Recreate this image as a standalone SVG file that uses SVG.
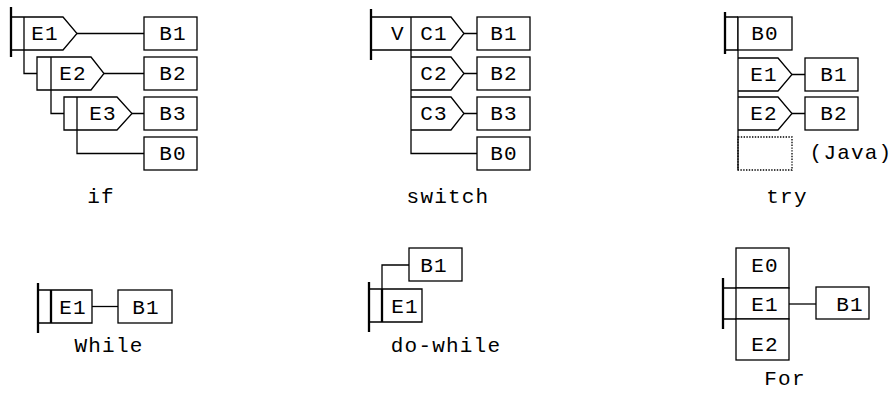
<svg xmlns="http://www.w3.org/2000/svg" width="893" height="398" viewBox="0 0 893 398">
  <style>
    .ln { fill: none; stroke: #000; stroke-width: 1.3; }
    .bx { fill: #fff; stroke: #000; stroke-width: 1.3; }
    .bar { fill: none; stroke: #000; stroke-width: 2.3; }
    .dot { fill: none; stroke: #000; stroke-width: 1.3; stroke-dasharray: 1.4 1.4; }
    text { font-family: "Liberation Mono", "Courier New", monospace; font-size: 21px; letter-spacing: 1.2px; fill: #000; text-anchor: middle; }
  </style>
  <rect width="893" height="398" fill="#fff"/>

  <!-- if / else-if chain -->
  <g id="if">
    <g id="if-connectors">
      <path class="ln" d="M24,17 V73.5 H37"/>
      <path class="ln" d="M51,57 V113.5 H64"/>
      <path class="ln" d="M77,97 V153.5 H144"/>
      <path class="ln" d="M77,33.5 H144 M104,73.5 H144 M132,113.5 H144"/>
    </g>
    <g id="if-e1"><path class="ln" d="M11,17 H63 L77,33.5 L63,50 H11"/><text x="45" y="40">E1</text></g>
    <g id="if-e2"><path class="ln" d="M37,57 H91 L104,73.5 L91,90 H37 Z"/><text x="73" y="80">E2</text></g>
    <g id="if-e3"><path class="ln" d="M64,97 H117 L132,113.5 L117,130 H64 Z"/><text x="103" y="120">E3</text></g>
    <g id="if-b1"><rect class="bx" x="144" y="17" width="53" height="33"/><text x="173" y="40">B1</text></g>
    <g id="if-b2"><rect class="bx" x="144" y="57" width="53" height="33"/><text x="173" y="80">B2</text></g>
    <g id="if-b3"><rect class="bx" x="144" y="97" width="53" height="33"/><text x="173" y="120">B3</text></g>
    <g id="if-b0"><rect class="bx" x="144" y="137" width="53" height="33"/><text x="173" y="160">B0</text></g>
    <path class="bar" d="M11,7 V57"/>
    <text x="101" y="203">if</text>
  </g>

  <!-- switch -->
  <g id="switch">
    <g id="switch-connectors">
      <path class="ln" d="M411,17 V153.5 H477"/>
      <path class="ln" d="M464,33.5 H477 M464,73.5 H477 M464,113.5 H477"/>
    </g>
    <g id="switch-v"><path class="ln" d="M371,17 H411 M371,50 H411"/><text x="398" y="40">V</text></g>
    <g id="switch-c1"><path class="ln" d="M411,17 H451 L464,33.5 L451,50 H411"/><text x="434" y="40">C1</text></g>
    <g id="switch-c2"><path class="ln" d="M411,57 H451 L464,73.5 L451,90 H411"/><text x="434" y="80">C2</text></g>
    <g id="switch-c3"><path class="ln" d="M411,97 H451 L464,113.5 L451,130 H411"/><text x="434" y="120">C3</text></g>
    <g id="switch-b1"><rect class="bx" x="477" y="17" width="53" height="33"/><text x="504" y="40">B1</text></g>
    <g id="switch-b2"><rect class="bx" x="477" y="57" width="53" height="33"/><text x="504" y="80">B2</text></g>
    <g id="switch-b3"><rect class="bx" x="477" y="97" width="53" height="33"/><text x="504" y="120">B3</text></g>
    <g id="switch-b0"><rect class="bx" x="477" y="137" width="53" height="33"/><text x="504" y="160">B0</text></g>
    <path class="bar" d="M371,9 V60"/>
    <text x="448" y="203">switch</text>
  </g>

  <!-- try / catch -->
  <g id="try">
    <g id="try-connectors">
      <path class="ln" d="M738,17 V170"/>
      <path class="ln" d="M725,17 H738 M725,50 H738"/>
      <path class="ln" d="M792,74.5 H805 M792,113.5 H805"/>
    </g>
    <g id="try-b0"><rect class="bx" x="738" y="17" width="54" height="33"/><text x="765" y="40">B0</text></g>
    <g id="try-e1"><path class="ln" d="M738,58 H778 L792,74.5 L778,91 H738"/><text x="764" y="81">E1</text></g>
    <g id="try-e2"><path class="ln" d="M738,97 H778 L792,113.5 L778,130 H738"/><text x="764" y="120">E2</text></g>
    <g id="try-b1"><rect class="bx" x="805" y="58" width="53" height="33"/><text x="834" y="81">B1</text></g>
    <g id="try-b2"><rect class="bx" x="805" y="97" width="53" height="33"/><text x="834" y="120">B2</text></g>
    <g id="try-finally"><rect class="dot" x="738" y="137" width="54" height="33"/></g>
    <text x="851" y="159">(Java)</text>
    <path class="bar" d="M725,12 V54"/>
    <text x="787" y="203">try</text>
  </g>

  <!-- while -->
  <g id="while">
    <g id="while-connectors">
      <path class="ln" d="M38,290 H51 M38,323 H51"/>
      <path class="ln" d="M92,306.5 H118"/>
    </g>
    <g id="while-e1"><path class="ln" d="M51,290 H92 V323 H51"/><path class="bar" d="M51,290 V323"/><text x="73" y="314">E1</text></g>
    <g id="while-b1"><rect class="bx" x="118" y="290" width="54" height="33"/><text x="146" y="314">B1</text></g>
    <path class="bar" d="M38,283 V333"/>
    <text x="109" y="352">While</text>
  </g>

  <!-- do-while -->
  <g id="do-while">
    <g id="do-while-connectors">
      <path class="ln" d="M369,289 H382 M369,322 H382"/>
      <path class="ln" d="M382,289 V265 H409"/>
    </g>
    <g id="do-while-e1"><path class="ln" d="M382,289 H422 V322 H382"/><path class="bar" d="M382,289 V322"/><text x="405" y="313">E1</text></g>
    <g id="do-while-b1"><rect class="bx" x="409" y="248" width="53" height="33"/><text x="434" y="272">B1</text></g>
    <path class="bar" d="M369,282 V332"/>
    <text x="446" y="352">do-while</text>
  </g>

  <!-- for -->
  <g id="for">
    <g id="for-connectors">
      <path class="ln" d="M723,288 H736 M723,319 H736"/>
      <path class="ln" d="M789,304 H816"/>
    </g>
    <g id="for-e0"><rect class="bx" x="736" y="248" width="53" height="40"/><text x="765" y="272">E0</text></g>
    <g id="for-e1"><rect class="bx" x="736" y="288" width="53" height="31"/><text x="765" y="311">E1</text></g>
    <g id="for-e2"><rect class="bx" x="736" y="319" width="53" height="41"/><text x="765" y="351">E2</text></g>
    <g id="for-b1"><rect class="bx" x="816" y="287" width="53" height="32"/><text x="850" y="311">B1</text></g>
    <path class="bar" d="M723,278 V329"/>
    <text x="785" y="385">For</text>
  </g>
</svg>
